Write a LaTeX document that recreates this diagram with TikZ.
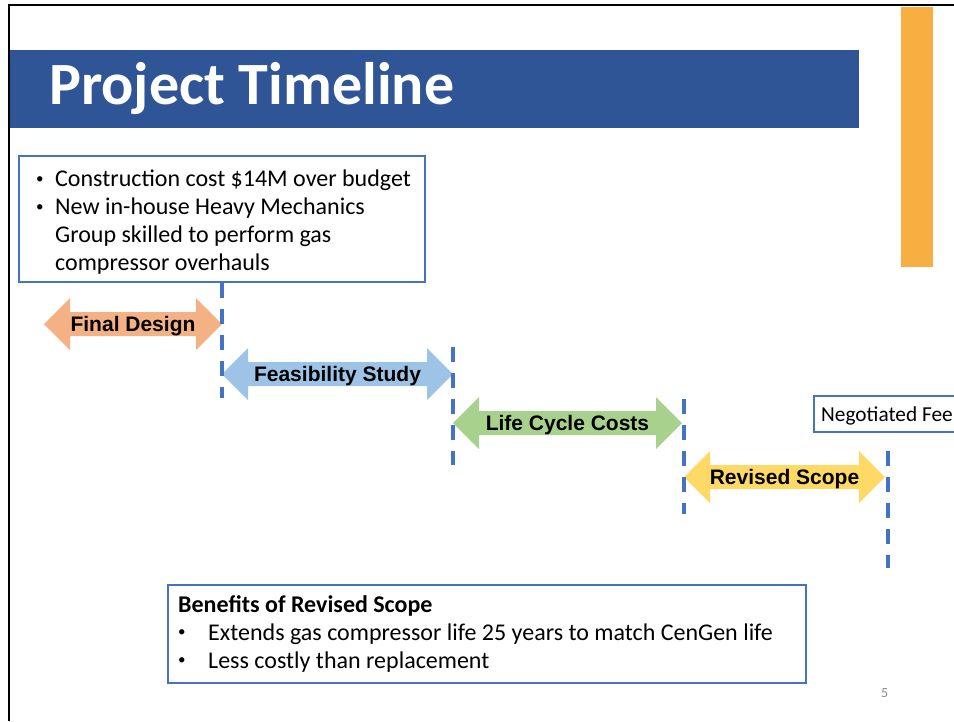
\documentclass[tikz,border=0pt]{standalone}
\usepackage{fontspec}
\setmainfont{Carlito}
\newfontfamily\arialfont{Liberation Sans}
\definecolor{bandblue}{HTML}{2F5597}
\definecolor{linkblue}{HTML}{4472C4}
\definecolor{barorange}{HTML}{F9AE42}
\definecolor{fdorange}{HTML}{F4B183}
\definecolor{fsblue}{HTML}{9DC3E6}
\definecolor{lcgreen}{HTML}{A9D18E}
\definecolor{rsyellow}{HTML}{FFD966}
\definecolor{pagegray}{HTML}{8C8C8C}
\tikzset{
  x=1pt, y=-1pt,
  txt/.style={inner sep=0pt, anchor=base west},
  boxtxt/.style={txt, font=\fontsize{24}{28}\selectfont},
  bottxt/.style={txt, font=\fontsize{24}{28}\selectfont},
  bulletmark/.style={txt, font=\fontsize{15}{18}\selectfont},
  arrlabel/.style={inner sep=0pt, anchor=base, font=\arialfont\bfseries\fontsize{21}{24}\selectfont},
  infobox/.style={draw=linkblue, line width=1.2pt},
  milestone/.style={draw=linkblue, line width=3.3pt, dash pattern=on 14.5pt off 11.5pt},
}
\newcommand{\phasearrow}[5]{% x1, x2, yc, color, name
  \fill[#4] (#1,#3) -- (#1+26,#3-26) -- (#1+26,#3-12) -- (#2-26,#3-12) -- (#2-26,#3-26)
    -- (#2,#3) -- (#2-26,#3+26) -- (#2-26,#3+12) -- (#1+26,#3+12) -- (#1+26,#3+26) -- cycle;
  \coordinate (#5) at ({(#1+#2)/2},#3);
}
\begin{document}
\begin{tikzpicture}
\useasboundingbox (0,0) rectangle (954,721);
\fill[white] (0,0) rectangle (954,721);
% slide frame
\draw[black, line width=2pt] (954,5) -- (9,5) -- (9,721);
% orange bar
\fill[barorange] (901,7) rectangle (933,267);
% title band
\fill[bandblue] (10,50) rectangle (859,128);
\node[txt, text=white, font=\bfseries\fontsize{60}{66}\selectfont] (title) at (49,104) {Project Timeline};

% top info box
\draw[infobox] (19,156) rectangle (425,282);
\node[bulletmark] (b1) at (36,183) {\textbullet};
\node[boxtxt] (t1) at (55,186) {Construction cost \$14M over budget};
\node[bulletmark] (b2) at (36,211) {\textbullet};
\node[boxtxt] (t2) at (55,214) {New in-house Heavy Mechanics};
\node[boxtxt] (t3) at (55,242) {Group skilled to perform gas};
\node[boxtxt] (t4) at (55,270) {compressor overhauls};

% milestones
\coordinate (m1a) at (222,283); \coordinate (m1b) at (222,398);
\coordinate (m2a) at (453,347); \coordinate (m2b) at (453,465);
\coordinate (m3a) at (684,399); \coordinate (m3b) at (684,514);
\coordinate (m4a) at (888,451); \coordinate (m4b) at (888,568);

% phase arrows
\phasearrow{44}{222}{324}{fdorange}{fd}
\phasearrow{222}{453}{374}{fsblue}{fs}
\phasearrow{453}{682}{423}{lcgreen}{lc}
\phasearrow{684}{885}{477}{rsyellow}{rs}

\draw[milestone] (m1a) -- (m1b);
\draw[milestone] (m2a) -- (m2b);
\draw[milestone] (m3a) -- (m3b);
\draw[milestone] (m4a) -- (m4b);

\node[arrlabel] (fdl) at ([yshift=-7.5pt]fd) {Final Design};
\node[arrlabel] (fsl) at ([yshift=-7.5pt]fs) {Feasibility Study};
\node[arrlabel] (lcl) at ([yshift=-7.5pt]lc) {Life Cycle Costs};
\node[arrlabel] (rsl) at ([yshift=-7.5pt]rs) {Revised Scope};

% negotiated fee box
\draw[infobox] (954,396) -- (814,396) -- (814,432) -- (954,432);
\node[txt, font=\fontsize{21.3}{24}\selectfont] (nf) at (821,421) {Negotiated Fee};

% bottom box
\draw[infobox] (168,585) rectangle (806,683);
\node[bottxt, font=\bfseries\fontsize{24}{28}\selectfont] (bt) at (178,612) {Benefits of Revised Scope};
\node[bulletmark] (bb1) at (178,636) {\textbullet};
\node[bottxt] (bl1) at (208,640) {Extends gas compressor life 25 years to match CenGen life};
\node[bulletmark] (bb2) at (178,664) {\textbullet};
\node[bottxt] (bl2) at (208,668) {Less costly than replacement};

% page number
\node[txt, text=pagegray, font=\fontsize{14}{16}\selectfont] (pg) at (881,697) {5};
\end{tikzpicture}
\end{document}
